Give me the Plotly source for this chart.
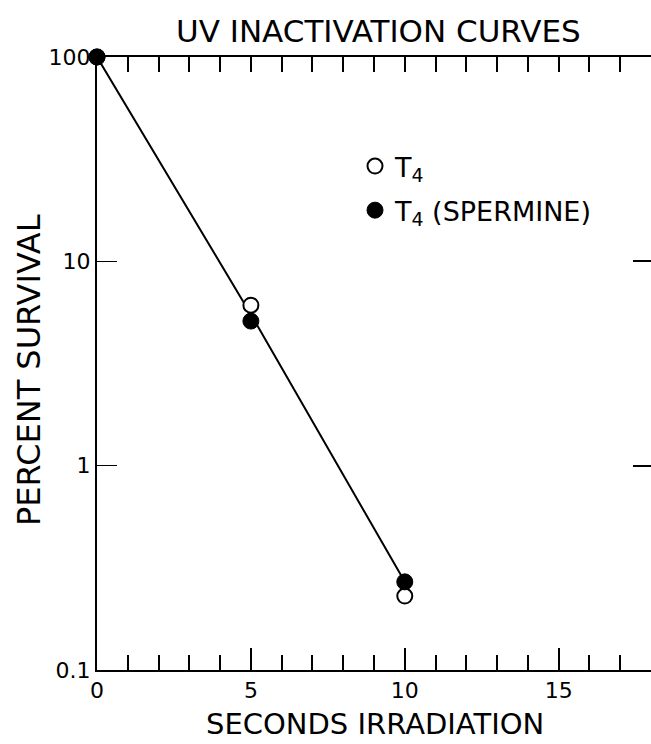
import plotly.graph_objects as go

# Data
seconds = [0, 5, 10]
t4 = [100, 6.1, 0.23]
t4_spermine = [100, 5.1, 0.27]
fit_x = [0, 5, 10]
fit_y = [100, 5.5, 0.27]

y_ticks = [0.1, 1, 10, 100]
y_ticktext = ["0.1", "1", "10", "100"]
x_ticks = [0, 5, 10, 15]

FONT = "DejaVu Sans"
W, H = 651, 744
L, R, T, B = 97, 0, 57, 744 - 670
PW, PH = W - L - R, H - T - B


def px(x):
    # screen pixel -> paper coordinate
    return (x - L) / PW


def py(y):
    return 1 - (y - T) / PH


fig = go.Figure()
fig.add_trace(go.Scatter(x=fit_x, y=fit_y, mode="lines", cliponaxis=False,
                         line=dict(color="black", width=2), showlegend=False,
                         hoverinfo="skip"))
fig.add_trace(go.Scatter(x=seconds, y=t4, mode="markers", name="T<sub>4</sub>",
                         legendgroup="a", cliponaxis=False,
                         marker=dict(symbol="circle", size=15, color="white",
                                     line=dict(color="black", width=2))))
fig.add_trace(go.Scatter(x=seconds, y=t4_spermine, mode="markers",
                         name="T<sub>4</sub> (SPERMINE)", legendgroup="b",
                         cliponaxis=False,
                         marker=dict(symbol="circle", size=16, color="black",
                                     line=dict(color="black", width=1))))
# helper trace so the top and right tick axes are drawn
fig.add_trace(go.Scatter(x=[0], y=[1], xaxis="x2", yaxis="y2", mode="markers",
                         marker=dict(opacity=0), showlegend=False,
                         hoverinfo="skip"))

fig.update_layout(
    width=W, height=H,
    margin=dict(l=L, r=R, t=T, b=B, autoexpand=False),
    paper_bgcolor="white", plot_bgcolor="white",
    font=dict(family=FONT, color="black", size=22),
    xaxis=dict(range=[0, 18], tickvals=x_ticks, ticks="inside", ticklen=22,
               tickwidth=1.5, tickcolor="black", showline=True, linecolor="black",
               linewidth=2, mirror=True, showgrid=False, zeroline=False,
               automargin=False, tickfont=dict(size=22, family=FONT),
               minor=dict(dtick=1, ticks="inside", ticklen=15, tickwidth=1.5,
                          tickcolor="black", showgrid=False)),
    xaxis2=dict(range=[0, 18], overlaying="x", side="top", anchor="y",
                dtick=1, ticks="inside", ticklen=15, tickwidth=1.5,
                tickcolor="black", showticklabels=False, showline=False,
                showgrid=False, zeroline=False, automargin=False),
    yaxis=dict(type="log", range=[-1, 2], tickvals=y_ticks, ticktext=y_ticktext,
               ticks="inside", ticklen=20, tickwidth=1, tickcolor="black",
               showline=True, linecolor="black", linewidth=2,
               showgrid=False, zeroline=False, automargin=False,
               tickfont=dict(size=22, family=FONT)),
    yaxis2=dict(type="log", range=[-1, 2], overlaying="y", side="right",
                anchor="free", position=1 - 19 / PW,
                tickvals=[1, 10], ticks="outside", ticklen=19, tickwidth=2,
                tickcolor="black", showticklabels=False, showline=False,
                showgrid=False, zeroline=False, automargin=False),
    legend=dict(x=px(355), y=py(142), xanchor="left", yanchor="top",
                bgcolor="rgba(0,0,0,0)", font=dict(size=27, family=FONT),
                tracegroupgap=6),
    annotations=[
        dict(text="UV INACTIVATION CURVES", x=px(378), y=py(31),
             xref="paper", yref="paper", xanchor="center", yanchor="middle",
             showarrow=False, font=dict(size=31, family=FONT)),
        dict(text="SECONDS IRRADIATION", x=px(375), y=py(724),
             xref="paper", yref="paper", xanchor="center", yanchor="middle",
             showarrow=False, font=dict(size=29, family=FONT)),
        dict(text="PERCENT SURVIVAL", x=px(29), y=py(370),
             xref="paper", yref="paper", xanchor="center", yanchor="middle",
             showarrow=False, textangle=-90, font=dict(size=32, family=FONT)),
    ],
)

fig.write_html("out.html",
               config={"displayModeBar": False},
               post_script="document.body.style.margin='0';"
                           "document.body.style.overflow='hidden';")
